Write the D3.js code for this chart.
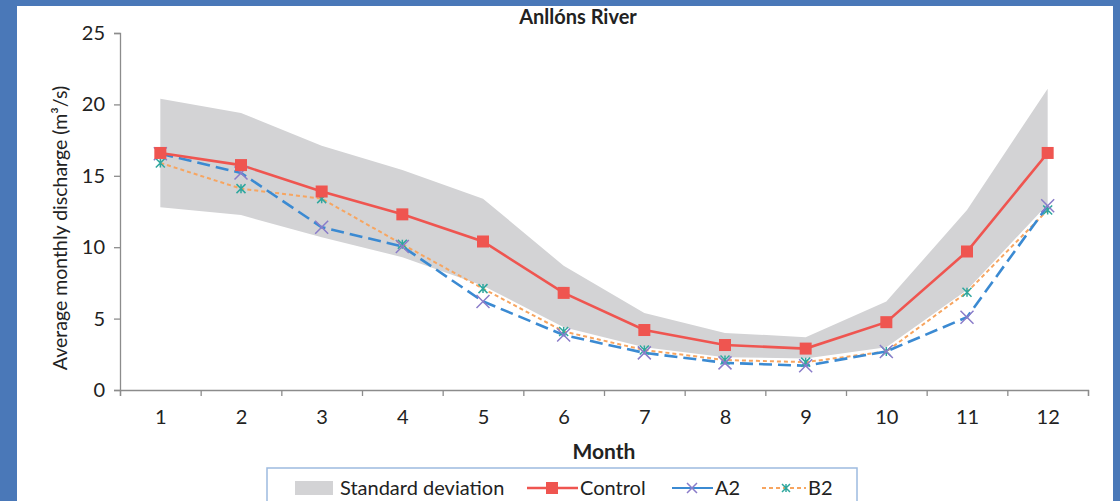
<!DOCTYPE html>
<html>
<head>
<meta charset="utf-8">
<script src="https://cdn.jsdelivr.net/npm/d3@7"></script>
<style>
  body { margin: 0; background: #4a78b8; }
  svg { display: block; }
  text { font-family: Lato, "Open Sans", sans-serif; fill: #222; }
</style>
</head>
<body>
<div id="chart"></div>
<script>
// ---- data ----
var months = [1, 2, 3, 4, 5, 6, 7, 8, 9, 10, 11, 12];
var control = [16.6, 15.75, 13.9, 12.3, 10.4, 6.8, 4.2, 3.15, 2.9, 4.75, 9.7, 16.6];
var a2 = [16.55, 15.2, 11.4, 10.05, 6.2, 3.85, 2.6, 1.9, 1.7, 2.7, 5.1, 12.9];
var b2 = [15.9, 14.1, 13.4, 10.2, 7.1, 4.1, 2.8, 2.1, 1.95, 2.7, 6.85, 12.6];
var sdUpper = [20.4, 19.4, 17.1, 15.4, 13.4, 8.7, 5.4, 4.0, 3.7, 6.2, 12.6, 21.1];
var sdLower = [12.8, 12.25, 10.7, 9.3, 7.3, 4.4, 3.0, 2.3, 2.2, 3.0, 7.0, 13.0];
var yTicks = [0, 5, 10, 15, 20, 25];

var W = 1120, H = 501;

var svg = d3.select("#chart").append("svg")
  .attr("width", W)
  .attr("height", H);

// white panel inside the blue frame
svg.append("rect")
  .attr("x", 17).attr("y", 6)
  .attr("width", 1096).attr("height", H)
  .attr("fill", "#ffffff");

var x = d3.scaleLinear().domain([0.5, 12.5]).range([120, 1088]);
var y = d3.scaleLinear().domain([0, 25]).range([390, 33]);

// std deviation band
var area = d3.area()
  .x(function(d, i) { return x(months[i]); })
  .y0(function(d, i) { return y(sdLower[i]); })
  .y1(function(d) { return y(d); });

svg.append("path")
  .datum(sdUpper)
  .attr("d", area)
  .attr("fill", "#d3d3d5");

// axes
var yAxis = svg.append("g")
  .attr("transform", "translate(120,0)")
  .call(d3.axisLeft(y).tickValues(yTicks).tickSize(6).tickPadding(9));

var xTickVals = d3.range(0.5, 13, 1);
var xAxis = svg.append("g")
  .attr("transform", "translate(0,390)")
  .call(d3.axisBottom(x).tickValues(xTickVals).tickSize(6).tickFormat(""));

var xLabels = svg.append("g")
  .attr("transform", "translate(0,390)")
  .call(d3.axisBottom(x).tickValues(months).tickSize(0).tickPadding(20).tickFormat(d3.format("d")));
xLabels.select(".domain").remove();

svg.selectAll(".domain, .tick line").attr("stroke", "#8c8c8c").attr("stroke-width", 1.3);
svg.selectAll(".tick text").attr("font-size", 20).attr("fill", "#3a3a3a")
  .attr("font-family", "Lato, 'Open Sans', sans-serif");

// lines
var line = d3.line()
  .x(function(d, i) { return x(months[i]); })
  .y(function(d) { return y(d); });

svg.append("path").datum(b2)
  .attr("d", line).attr("fill", "none")
  .attr("stroke", "#f7a560").attr("stroke-width", 2)
  .attr("stroke-dasharray", "4,3");

svg.append("path").datum(a2)
  .attr("d", line).attr("fill", "none")
  .attr("stroke", "#3b8ad2").attr("stroke-width", 2.6)
  .attr("stroke-dasharray", "13,6");

svg.append("path").datum(control)
  .attr("d", line).attr("fill", "none")
  .attr("stroke", "#ef5550").attr("stroke-width", 2.6);

// markers
function xMark(g, cx, cy, r, color) {
  g.append("path")
    .attr("d", "M" + (cx - r) + "," + (cy - r) + "L" + (cx + r) + "," + (cy + r) +
               "M" + (cx - r) + "," + (cy + r) + "L" + (cx + r) + "," + (cy - r))
    .attr("stroke", color).attr("stroke-width", 1.5).attr("fill", "none");
}
function starMark(g, cx, cy, r, color) {
  g.append("path")
    .attr("d", "M" + (cx - r) + "," + (cy - r) + "L" + (cx + r) + "," + (cy + r) +
               "M" + (cx - r) + "," + (cy + r) + "L" + (cx + r) + "," + (cy - r) +
               "M" + cx + "," + (cy - r) + "L" + cx + "," + (cy + r))
    .attr("stroke", color).attr("stroke-width", 1.5).attr("fill", "none");
}

var marks = svg.append("g");
b2.forEach(function(v, i) { starMark(marks, x(months[i]), y(v), 4.5, "#2fa79e"); });
a2.forEach(function(v, i) { xMark(marks, x(months[i]), y(v), 6.5, "#8a7cc9"); });

svg.append("g").selectAll("rect")
  .data(control)
  .enter().append("rect")
  .attr("x", function(d, i) { return x(months[i]) - 6; })
  .attr("y", function(d) { return y(d) - 6; })
  .attr("width", 12).attr("height", 12)
  .attr("fill", "#ef5550");

// titles
svg.append("text")
  .attr("x", 578).attr("y", 24)
  .attr("text-anchor", "middle")
  .attr("font-size", 20).attr("font-weight", "bold")
  .text("Anllóns River");

svg.append("text")
  .attr("x", 604).attr("y", 459)
  .attr("text-anchor", "middle")
  .attr("font-size", 21).attr("font-weight", "bold")
  .text("Month");

svg.append("text")
  .attr("transform", "translate(67,228) rotate(-90)")
  .attr("text-anchor", "middle")
  .attr("font-size", 19.5)
  .text("Average monthly discharge (m³/s)");

// legend
var lg = svg.append("g");
lg.append("rect")
  .attr("x", 267).attr("y", 468)
  .attr("width", 590).attr("height", 40)
  .attr("fill", "#fff").attr("stroke", "#9dbbe0").attr("stroke-width", 1.5);

var ly = 488;
var fs = 20;
lg.append("rect").attr("x", 295).attr("y", 481).attr("width", 38).attr("height", 14).attr("fill", "#d3d3d5");
lg.append("text").attr("x", 340).attr("y", ly + 7).attr("font-size", fs).text("Standard deviation");

lg.append("line").attr("x1", 527).attr("x2", 578).attr("y1", ly).attr("y2", ly)
  .attr("stroke", "#ef5550").attr("stroke-width", 2.6);
lg.append("rect").attr("x", 546).attr("y", ly - 6).attr("width", 12).attr("height", 12).attr("fill", "#ef5550");
lg.append("text").attr("x", 580).attr("y", ly + 7).attr("font-size", fs).text("Control");

lg.append("line").attr("x1", 672).attr("x2", 713).attr("y1", ly).attr("y2", ly)
  .attr("stroke", "#3b8ad2").attr("stroke-width", 2);
xMark(lg, 692, ly, 5, "#8a7cc9");
lg.append("text").attr("x", 715).attr("y", ly + 7).attr("font-size", fs).text("A2");

lg.append("line").attr("x1", 762).attr("x2", 806).attr("y1", ly).attr("y2", ly)
  .attr("stroke", "#f7a560").attr("stroke-width", 2).attr("stroke-dasharray", "4,3");
starMark(lg, 786, ly, 4, "#2fa79e");
lg.append("text").attr("x", 808).attr("y", ly + 7).attr("font-size", fs).text("B2");
</script>
</body>
</html>
